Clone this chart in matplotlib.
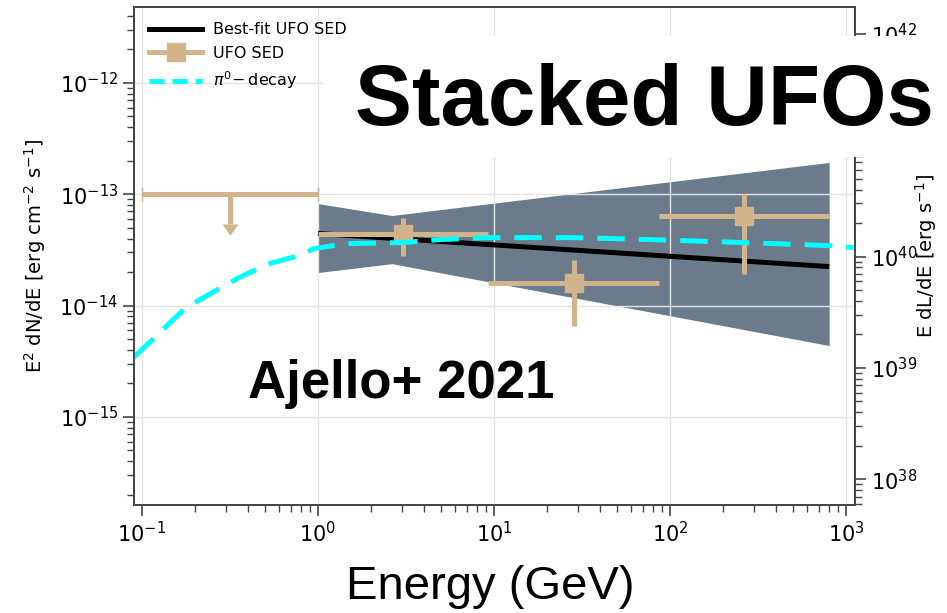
import matplotlib
matplotlib.use("Agg")
import matplotlib.pyplot as plt
from matplotlib.lines import Line2D
from matplotlib.patches import Rectangle
import numpy as np

# ================= Data ===============
# binned SED of the stacked UFOs (GeV, erg cm^-2 s^-1)
bin_lo = [1.0, 9.28, 86.2]
bin_hi = [9.28, 86.2, 800.0]
sed_e = [3.05, 28.3, 262.6]
sed_flux = [4.44e-14, 1.61e-14, 6.44e-14]
sed_flux_lo = [2.81e-14, 6.6e-15, 1.94e-14]
sed_flux_hi = [6.18e-14, 2.59e-14, 1.01e-13]

# upper limit for the 0.1-1 GeV bin
ul_lo, ul_hi = 0.1, 1.0
ul_e = 0.316
ul_flux = 1e-13
ul_arrow_end = 5.46e-14

# best-fit power law and its butterfly
fit_e = [1.0, 800.0]
fit_flux = [4.44e-14, 2.24e-14]
band_e = [1.0, 2.63, 800.0]
band_hi = [8.24e-14, 6.44e-14, 1.93e-13]
band_lo = [1.98e-14, 2.38e-14, 4.38e-15]

# pi0-decay model curve
pi0_e = [0.0895, 0.121, 0.175, 0.251, 0.357, 0.528, 0.78, 0.95, 1.43,
         3.0, 5.0, 9.3, 28.0, 75.0, 262.0, 800.0, 1100.0]
pi0_flux = [3.41e-15, 5.37e-15, 9.4e-15, 1.31e-14, 1.79e-14, 2.38e-14,
            2.81e-14, 3.25e-14, 3.6e-14, 3.68e-14, 3.92e-14, 4.08e-14,
            4.08e-14, 3.92e-14, 3.68e-14, 3.46e-14, 3.32e-14]

# flux -> E dL/dE (erg s^-1)
lum_factor = 3.63e53

# ================= Plot ===============
tan = '#D2B48C'
band_col = '#6C7B8B'

fig = plt.figure(figsize=(9.47, 6.13), dpi=100)
ax = fig.add_axes([134 / 947, 1 - 505 / 613, (855 - 134) / 947, (505 - 7) / 613])

ax.fill_between(band_e, band_lo, band_hi, color=band_col, lw=0, zorder=1)
ax.plot(fit_e, fit_flux, color='black', lw=3.6, zorder=2, solid_capstyle='butt')

sed_e = np.array(sed_e)
sed_flux = np.array(sed_flux)
xerr = [sed_e - np.array(bin_lo), np.array(bin_hi) - sed_e]
yerr = [sed_flux - np.array(sed_flux_lo), np.array(sed_flux_hi) - sed_flux]
ax.errorbar(sed_e, sed_flux, xerr=xerr, yerr=yerr, fmt='s', color=tan,
            ms=13, elinewidth=3.6, capsize=0, zorder=3)

ax.errorbar([ul_e], [ul_flux], xerr=[[ul_e - ul_lo], [ul_hi - ul_e]],
            yerr=[ul_flux - ul_arrow_end], uplims=True, fmt='none',
            color=tan, ecolor=tan, elinewidth=3.6, capsize=5, zorder=3)

ax.plot(pi0_e, pi0_flux, color='cyan', lw=3.6, ls=(0, (5.5, 2.8)), zorder=4)

ax.set_xscale('log')
ax.set_yscale('log')
ax.set_xlim(10 ** -1.045, 10 ** 3.05)
ax.set_ylim(1.62e-16, 4.8e-12)
ax.grid(True, which='major', color='#e4e4e4', lw=1.0, zorder=0)

ax.set_ylabel(r'E$^2$ dN/dE [erg cm$^{-2}$ s$^{-1}$]', fontsize=14, labelpad=8)
for a in ['top', 'right', 'left', 'bottom']:
    ax.spines[a].set_color('#444444')
    ax.spines[a].set_linewidth(1.3)
ax.tick_params(which='major', labelsize=15, length=8, width=1.2, color='#444444')
ax.tick_params(which='minor', length=5, width=1.0, color='#444444')

# luminosity axis on the right
ax2 = ax.twinx()
ax2.set_yscale('log')
lo, hi = ax.get_ylim()
ax2.set_ylim(lo * lum_factor, hi * lum_factor)
ax2.set_ylabel(r'E dL/dE [erg s$^{-1}$]', fontsize=14, labelpad=-3)
ax2.tick_params(which='major', labelsize=15, length=8, width=1.2, color='#444444')
ax2.tick_params(which='minor', length=5, width=1.0, color='#444444')
for a in ['top', 'right', 'left', 'bottom']:
    ax2.spines[a].set_color('#444444')
    ax2.spines[a].set_linewidth(1.3)

handles = [Line2D([], [], color='black', lw=3.6),
           Line2D([], [], color=tan, lw=3.6, marker='s', ms=13),
           Line2D([], [], color='cyan', lw=3.6, ls=(0, (3, 1.6)))]
labels = ['Best-fit UFO SED', 'UFO SED', r'$\pi^0\!-$decay']
ax.legend(handles, labels, loc='upper left', frameon=False, fontsize=11.5,
          handlelength=3.3, borderaxespad=0.55, labelspacing=0.55,
          handletextpad=0.7)

fig.text(490 / 947, 1 - 599 / 613, 'Energy (GeV)', ha='center', va='baseline',
         fontsize=34, family='Liberation Sans')

# white box behind the headline
fig.patches.append(Rectangle((323 / 947, 1 - 157 / 613), (947 - 323) / 947, 121 / 613,
                             transform=fig.transFigure, facecolor='white',
                             edgecolor='none', zorder=5))
fig.text(355 / 947, 1 - 125 / 613, 'Stacked UFOs', ha='left', va='baseline',
         fontsize=61.5, fontweight='bold', family='Liberation Sans', zorder=6)
fig.text(248 / 947, 1 - 398 / 613, 'Ajello+ 2021', ha='left', va='baseline',
         fontsize=38, fontweight='bold', family='Liberation Sans', zorder=6)

fig.savefig('out.png', dpi=100)
